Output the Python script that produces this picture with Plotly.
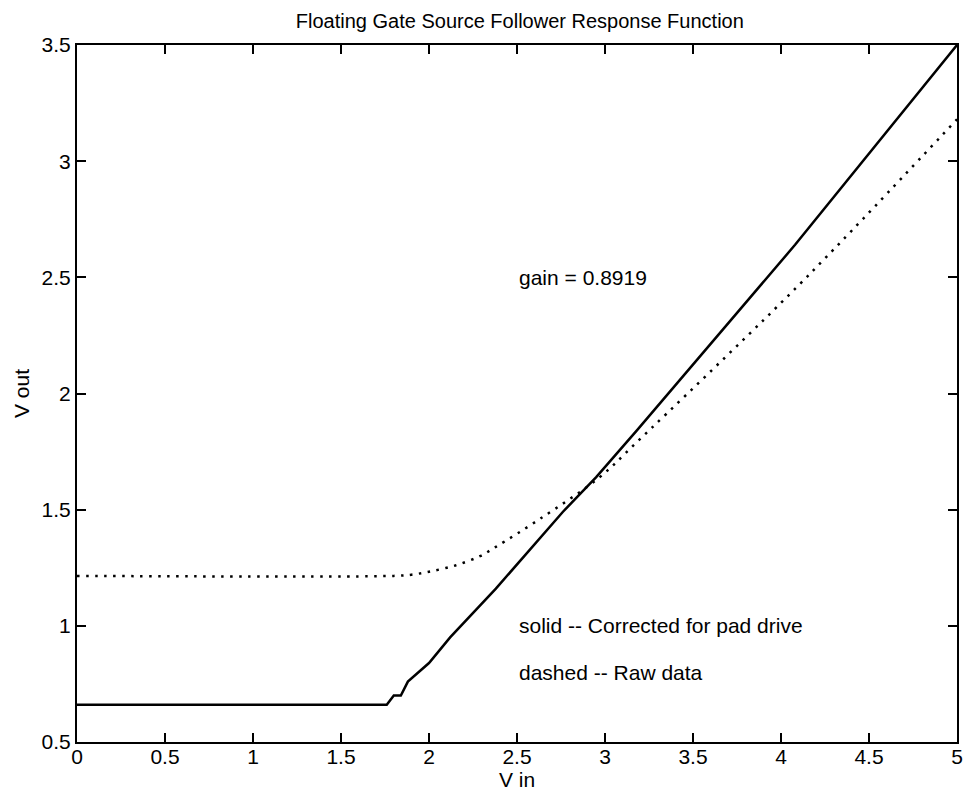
import plotly.graph_objects as go

# Solid: corrected for pad drive
solid_x = [0.0, 1.76, 1.80, 1.84, 1.88, 2.00, 2.12, 2.38, 2.76, 2.95, 3.18, 3.81, 4.08, 5.00]
solid_y = [0.66, 0.66, 0.70, 0.70, 0.76, 0.84, 0.95, 1.16, 1.49, 1.64, 1.84, 2.40, 2.64, 3.50]

# Dotted: raw data
raw_x = [0.0, 1.80, 1.90, 2.00, 2.15, 2.29, 2.38, 2.63, 2.97, 3.18, 4.00, 4.35, 5.00]
raw_y = [1.215, 1.215, 1.22, 1.233, 1.26, 1.30, 1.34, 1.46, 1.64, 1.79, 2.39, 2.66, 3.18]

x_ticks = [0, 0.5, 1, 1.5, 2, 2.5, 3, 3.5, 4, 4.5, 5]
y_ticks = [0.5, 1, 1.5, 2, 2.5, 3, 3.5]

FONT = "Liberation Sans, Arial, sans-serif"
FS = 21

fig = go.Figure()
fig.add_trace(go.Scatter(x=solid_x, y=solid_y, mode="lines",
                         line=dict(color="black", width=2.5), showlegend=False))
fig.add_trace(go.Scatter(x=raw_x, y=raw_y, mode="lines", line_shape="spline",
                         line=dict(color="black", width=2.5, dash="2.5px,6.5px"),
                         showlegend=False))

for tx, ty, tt in [(2.5, 2.5, "gain = 0.8919"),
                   (2.5, 1.0, "solid -- Corrected for pad drive"),
                   (2.5, 0.8, "dashed -- Raw data")]:
    fig.add_annotation(x=tx, y=ty, text=tt, showarrow=False, xanchor="left", yanchor="middle",
                       font=dict(size=FS, color="black", family=FONT))

axis_common = dict(showgrid=False, zeroline=False, showline=True, linecolor="black", linewidth=2,
                   mirror="ticks", ticks="inside", ticklen=9, tickwidth=1.5, tickcolor="black",
                   tickfont=dict(size=FS, color="black", family=FONT))

fig.update_layout(
    width=963, height=790,
    margin=dict(l=69, r=8, t=37, b=56),
    paper_bgcolor="white", plot_bgcolor="white",
    title=dict(text="Floating Gate Source Follower Response Function", x=0.5315, xanchor="center",
               xref="container", yref="container", y=0.993, yanchor="top",
               font=dict(size=20, color="black", family=FONT)),
    xaxis=dict(range=[0, 5], tickvals=x_ticks, ticktext=[f"{v:g}" for v in x_ticks],
               ticklabelstandoff=-5,
               title=dict(text="V in", standoff=0, font=dict(size=FS, color="black", family=FONT)),
               **axis_common),
    yaxis=dict(range=[0.5, 3.5], tickvals=y_ticks, ticktext=[f"{v:g}" for v in y_ticks],
               title=dict(text="V out", standoff=6, font=dict(size=FS, color="black", family=FONT)),
               **axis_common),
)

fig.write_html("out.html")
